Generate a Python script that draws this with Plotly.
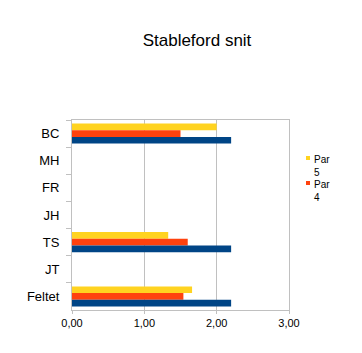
import plotly.graph_objects as go

categories = ["BC", "MH", "FR", "JH", "TS", "JT", "Feltet"]
par5 = [2.00, None, None, None, 1.33, None, 1.66]
par4 = [1.50, None, None, None, 1.60, None, 1.54]
par3 = [2.20, None, None, None, 2.20, None, 2.20]
x_ticks = [0, 1, 2, 3]

C5 = "#ffd320"
C4 = "#ff420e"
C3 = "#004586"
FONT = "Liberation Sans, Arial, sans-serif"
GRID = "#c0c0c0"

fig = go.Figure()
fig.add_trace(go.Bar(y=categories, x=par5, orientation="h", name="Par 5",
                     marker=dict(color=C5, line=dict(width=0)), showlegend=False))
fig.add_trace(go.Bar(y=categories, x=par4, orientation="h", name="Par 4",
                     marker=dict(color=C4, line=dict(width=0)), showlegend=False))
fig.add_trace(go.Bar(y=categories, x=par3, orientation="h", name="Par 3",
                     marker=dict(color=C3, line=dict(width=0)), showlegend=False))

fig.update_layout(
    width=362, height=353,
    margin=dict(l=72, r=73, t=120, b=43),
    paper_bgcolor="white", plot_bgcolor="white",
    barmode="group", bargap=0.26, bargroupgap=0,
    separators=",.",
    font=dict(family=FONT, color="black"),
    title=dict(text="Stableford snit", font=dict(size=17, family=FONT, color="black"),
               x=197 / 362, xref="container", xanchor="center",
               y=1 - 40 / 353, yref="container", yanchor="middle"),
    xaxis=dict(range=[0, 3], tickvals=x_ticks, tickformat=".2f",
               showgrid=True, gridcolor=GRID, gridwidth=1,
               showline=True, linecolor=GRID, linewidth=1, mirror=True,
               ticks="outside", ticklen=3, tickcolor=GRID,
               tickfont=dict(size=11, family=FONT, color="black"),
               zeroline=False, fixedrange=True),
    yaxis=dict(autorange="reversed", type="category",
               showgrid=False,
               showline=True, linecolor=GRID, linewidth=1, mirror=True,
               ticks="outside", ticklen=5, tickcolor=GRID, tickson="boundaries",
               tickfont=dict(size=13, family=FONT, color="black"),
               ticklabelstandoff=9, fixedrange=True),
)

# legend (LibreOffice style: tiny square + wrapped label)
legend_items = [("Par<br>5", C5, 158), ("Par<br>4", C4, 183)]
for label, col, ypx in legend_items:
    fig.add_shape(type="rect", xref="paper", yref="paper",
                  x0=(306 - 72) / 217, x1=(310 - 72) / 217,
                  y0=(310 - ypx - 2) / 190, y1=(310 - ypx + 2) / 190,
                  fillcolor=col, line=dict(width=0))
    fig.add_annotation(text=label, xref="paper", yref="paper",
                       x=(312 - 72) / 217, y=(310 - ypx + 6) / 190,
                       xanchor="left", yanchor="top", align="left",
                       showarrow=False,
                       font=dict(size=10, family=FONT, color="black"))

fig.write_html("out.html")
